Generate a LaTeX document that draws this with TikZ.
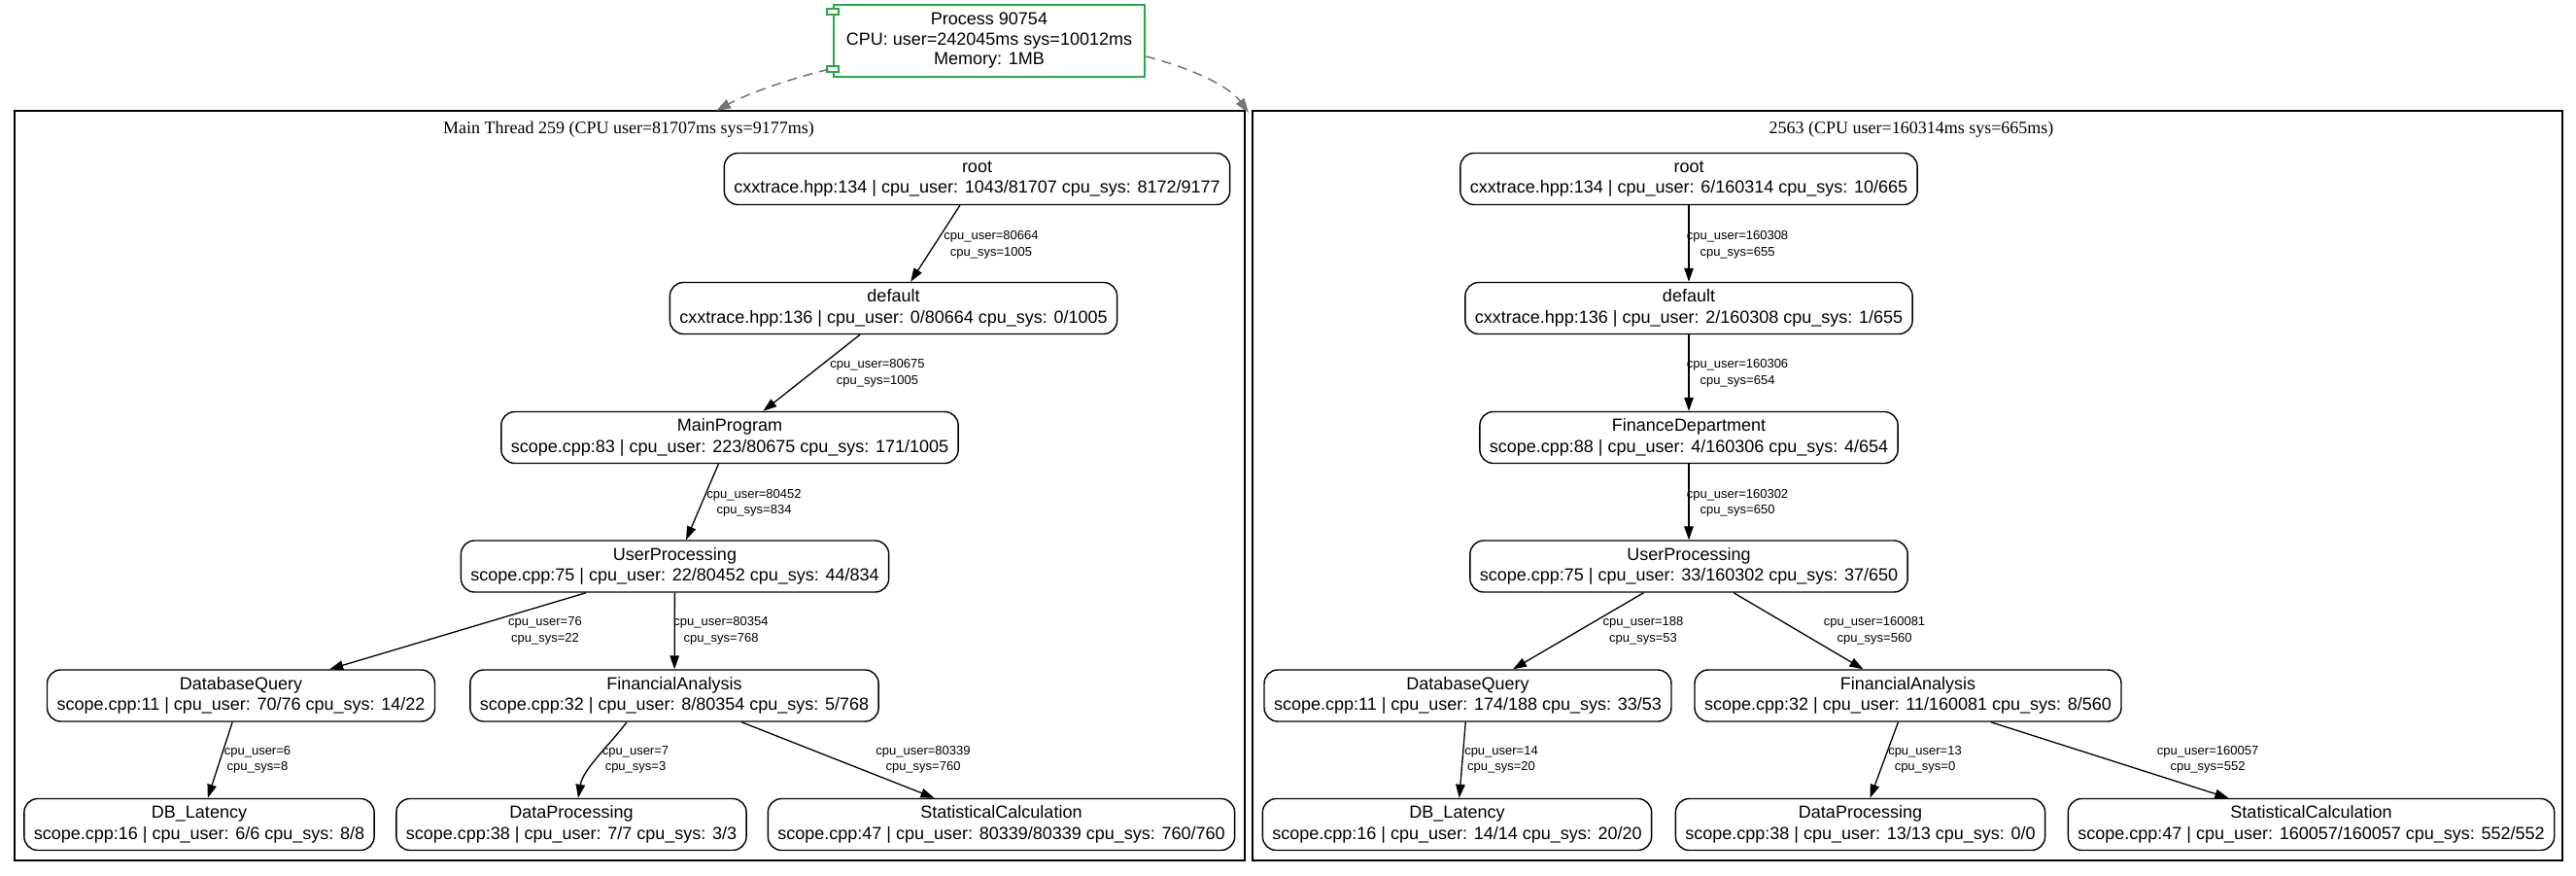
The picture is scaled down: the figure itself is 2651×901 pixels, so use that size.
\documentclass[tikz,border=0pt]{standalone}
\usepackage{fontspec}
\setmainfont{Liberation Sans}
\newfontfamily\serifttl{Liberation Serif}
\usetikzlibrary{arrows.meta,calc}

\definecolor{procgreen}{RGB}{40,167,69}
\definecolor{linkgray}{RGB}{110,117,125}

\tikzset{
  fn/.style={draw, rounded corners=14pt, line width=1.4pt, minimum height=53pt,
    inner xsep=10pt, inner ysep=0pt, align=center, font=\fontsize{18}{21.5}\selectfont},
  call/.style={line width=1.3pt, -{Triangle[length=14pt,width=9.5pt]}},
  cnt/.style={align=center, inner sep=0pt, font=\fontsize{13}{16.5}\selectfont},
  clusterbox/.style={draw, line width=2.6pt, inner sep=0pt},
  ttl/.style={inner sep=0pt, font=\serifttl\fontsize{18}{21}\selectfont},
  spawn/.style={draw=linkgray, line width=1.5pt, dash pattern=on 10pt off 7pt,
    -{Triangle[length=15pt,width=10pt]}},
  tab/.style={draw=procgreen, fill=white, line width=2pt, minimum width=12pt,
    minimum height=6pt, inner sep=0pt}
}

\begin{document}
\begin{tikzpicture}[x=1pt,y=-1pt]
\useasboundingbox (0,0) rectangle (2651,901);

% process node
\node[draw=procgreen, line width=2.6pt, minimum width=320pt, minimum height=74pt,
  inner sep=0pt, align=center, font=\fontsize{18}{20.5}\selectfont] (proc) at (1018,42)
  {Process 90754\\CPU: user=242045ms sys=10012ms\\Memory: 1MB};
\node[tab] (tabA) at (proc.west |- 0,12.5) {};
\node[tab] (tabB) at (proc.west |- 0,71) {};

% thread clusters
\node[clusterbox, minimum width=1266pt, minimum height=771pt] (thrA) at (648,499.5) {};
\node[clusterbox, minimum width=1348pt, minimum height=771pt] (thrB) at (1963,499.5) {};
\node[ttl] (ttlA) at (647,133) {Main Thread 259 (CPU user=81707ms sys=9177ms)};
\node[ttl] (ttlB) at (1967,133) {2563 (CPU user=160314ms sys=665ms)};

% free ends of the thread links
\coordinate (inA) at (737,114);
\coordinate (inB) at (1285,116);
\draw[spawn] ($(proc.south west)+(-4,-9)$) .. controls (810,82) and (770,96) .. (inA);
\draw[spawn] ($(proc.east)+(0,16)$) .. controls (1232,72) and (1266,90) .. (inB);

% ---- main thread ----
\node[fn] (aroot) at (1005.5,184) {root\\cxxtrace.hpp:134 | cpu\_user: 1043/81707 cpu\_sys: 8172/9177};
\node[fn] (adef) at (919.5,317) {default\\cxxtrace.hpp:136 | cpu\_user: 0/80664 cpu\_sys: 0/1005};
\node[fn] (amain) at (751,450) {MainProgram\\scope.cpp:83 | cpu\_user: 223/80675 cpu\_sys: 171/1005};
\node[fn] (auser) at (694.5,582.5) {UserProcessing\\scope.cpp:75 | cpu\_user: 22/80452 cpu\_sys: 44/834};
\node[fn] (adbq) at (248,715.5) {DatabaseQuery\\scope.cpp:11 | cpu\_user: 70/76 cpu\_sys: 14/22};
\node[fn] (afin) at (694,715.5) {FinancialAnalysis\\scope.cpp:32 | cpu\_user: 8/80354 cpu\_sys: 5/768};
\node[fn] (alat) at (205,848) {DB\_Latency\\scope.cpp:16 | cpu\_user: 6/6 cpu\_sys: 8/8};
\node[fn] (adata) at (588,848) {DataProcessing\\scope.cpp:38 | cpu\_user: 7/7 cpu\_sys: 3/3};
\node[fn] (astat) at (1030.5,848) {StatisticalCalculation\\scope.cpp:47 | cpu\_user: 80339/80339 cpu\_sys: 760/760};

\draw[call] (aroot) -- (adef);
\draw[call] (adef) -- (amain);
\draw[call] (amain) -- (auser);
\draw[call] (auser) -- (adbq);
\draw[call] (auser) -- (afin);
\draw[call] (adbq) -- (alat);
\draw[call] ($(afin.south)+(-49,0)$) .. controls ($(afin.south)+(-66,23)$) and ($(adata.north)+(12,-30)$) .. ($(adata.north)+(7,0)$);
\draw[call] (afin) -- (astat);

\node[cnt] (ca1) at (1020,252) {cpu\_user=80664\\cpu\_sys=1005};
\node[cnt] (ca2) at (903,384) {cpu\_user=80675\\cpu\_sys=1005};
\node[cnt] (ca3) at (776,517.5) {cpu\_user=80452\\cpu\_sys=834};
\node[cnt] (ca4) at (561,649) {cpu\_user=76\\cpu\_sys=22};
\node[cnt] (ca5) at (742,649) {cpu\_user=80354\\cpu\_sys=768};
\node[cnt] (ca6) at (265,781.5) {cpu\_user=6\\cpu\_sys=8};
\node[cnt] (ca7) at (654,781.5) {cpu\_user=7\\cpu\_sys=3};
\node[cnt] (ca8) at (950,781.5) {cpu\_user=80339\\cpu\_sys=760};

% ---- thread 2563 ----
\node[fn] (broot) at (1738,184) {root\\cxxtrace.hpp:134 | cpu\_user: 6/160314 cpu\_sys: 10/665};
\node[fn] (bdef) at (1738,317) {default\\cxxtrace.hpp:136 | cpu\_user: 2/160308 cpu\_sys: 1/655};
\node[fn] (bfinance) at (1738,450) {FinanceDepartment\\scope.cpp:88 | cpu\_user: 4/160306 cpu\_sys: 4/654};
\node[fn] (buser) at (1738,582.5) {UserProcessing\\scope.cpp:75 | cpu\_user: 33/160302 cpu\_sys: 37/650};
\node[fn] (bdbq) at (1510.5,715.5) {DatabaseQuery\\scope.cpp:11 | cpu\_user: 174/188 cpu\_sys: 33/53};
\node[fn] (bfin) at (1963.5,715.5) {FinancialAnalysis\\scope.cpp:32 | cpu\_user: 11/160081 cpu\_sys: 8/560};
\node[fn] (blat) at (1499.5,848) {DB\_Latency\\scope.cpp:16 | cpu\_user: 14/14 cpu\_sys: 20/20};
\node[fn] (bdata) at (1914.5,848) {DataProcessing\\scope.cpp:38 | cpu\_user: 13/13 cpu\_sys: 0/0};
\node[fn] (bstat) at (2378.5,848) {StatisticalCalculation\\scope.cpp:47 | cpu\_user: 160057/160057 cpu\_sys: 552/552};

\draw[call] (broot) -- (bdef);
\draw[call] (bdef) -- (bfinance);
\draw[call] (bfinance) -- (buser);
\draw[call] (buser) -- (bdbq);
\draw[call] (buser) -- (bfin);
\draw[call] (bdbq) -- (blat);
\draw[call] (bfin) -- (bdata);
\draw[call] (bfin) -- (bstat);

\node[cnt] (cb1) at (1788,252) {cpu\_user=160308\\cpu\_sys=655};
\node[cnt] (cb2) at (1788,384) {cpu\_user=160306\\cpu\_sys=654};
\node[cnt] (cb3) at (1788,517.5) {cpu\_user=160302\\cpu\_sys=650};
\node[cnt] (cb4) at (1691,649) {cpu\_user=188\\cpu\_sys=53};
\node[cnt] (cb5) at (1929,649) {cpu\_user=160081\\cpu\_sys=560};
\node[cnt] (cb6) at (1545,781.5) {cpu\_user=14\\cpu\_sys=20};
\node[cnt] (cb7) at (1981,781.5) {cpu\_user=13\\cpu\_sys=0};
\node[cnt] (cb8) at (2272,781.5) {cpu\_user=160057\\cpu\_sys=552};
\end{tikzpicture}
\end{document}
